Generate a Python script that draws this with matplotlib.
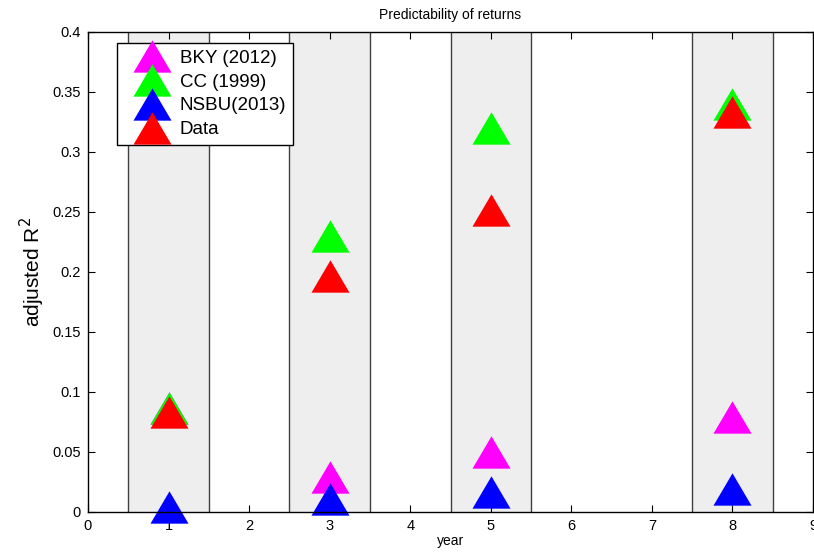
import numpy as np
import matplotlib
matplotlib.use("Agg")
import matplotlib.pyplot as plt
from matplotlib.ticker import FormatStrFormatter

plt.rcParams['font.family'] = ['Liberation Sans', 'DejaVu Sans']

# horizon (years) and adjusted R^2 per model
years = [1, 3, 5, 8]
bky = [0.087, 0.029, 0.050, 0.079]
cc = [0.087, 0.230, 0.320, 0.340]
nsbu = [0.004, 0.011, 0.017, 0.019]
data = [0.083, 0.197, 0.252, 0.333]

labels = ['BKY (2012)', 'CC (1999)', 'NSBU(2013)', 'Data']
colors = ['#ff00ff', '#00ff00', '#0000ff', '#ff0000']

# wide triangle, like the matlab '^' marker
tri = [(-1, -0.85), (1, -0.85), (0, 0.85), (-1, -0.85)]

fig = plt.figure(figsize=(8.14, 5.59), dpi=100)
ax = fig.add_axes([0.1081, 0.0841, 0.8907, 0.8587])

# shaded bands around each horizon
for y in years:
    ax.axvspan(y - 0.5, y + 0.5, facecolor='#eeeeee', edgecolor='none', zorder=0)
    ax.axvline(y - 0.5, color='#404040', lw=1, zorder=1)
    ax.axvline(y + 0.5, color='#404040', lw=1, zorder=1)

for vals, lab, c in zip([bky, cc, nsbu, data], labels, colors):
    ax.plot(years, vals, linestyle='none', marker=tri, ms=27.4,
            color=c, mew=0, label=lab, zorder=3, clip_on=False)

ax.set_xlim(0, 9)
ax.set_ylim(0, 0.4)
ax.set_xticks(np.arange(0, 10))
ax.set_yticks(np.arange(0, 0.401, 0.05))
ax.yaxis.set_major_formatter(FormatStrFormatter('%g'))
ax.tick_params(direction='in', length=5, width=0.8, top=True, right=True,
               labelsize=10.5, pad=5)
for s in ax.spines.values():
    s.set_linewidth(1)
    s.set_zorder(4)

ax.set_title('Predictability of returns', fontsize=10, pad=9)
ax.set_xlabel('year', fontsize=10, labelpad=1)
ax.set_ylabel('adjusted R$^2$', fontsize=15, labelpad=4)

leg = ax.legend(loc='upper left', bbox_to_anchor=(0.04, 0.977), borderaxespad=0,
                fontsize=13.5, fancybox=False, edgecolor='black', framealpha=1,
                borderpad=0.35, handlelength=3, handletextpad=0.0,
                labelspacing=0.36, numpoints=1)
leg.get_frame().set_linewidth(1)
leg.set_zorder(5)

fig.savefig('out.png', dpi=100)
